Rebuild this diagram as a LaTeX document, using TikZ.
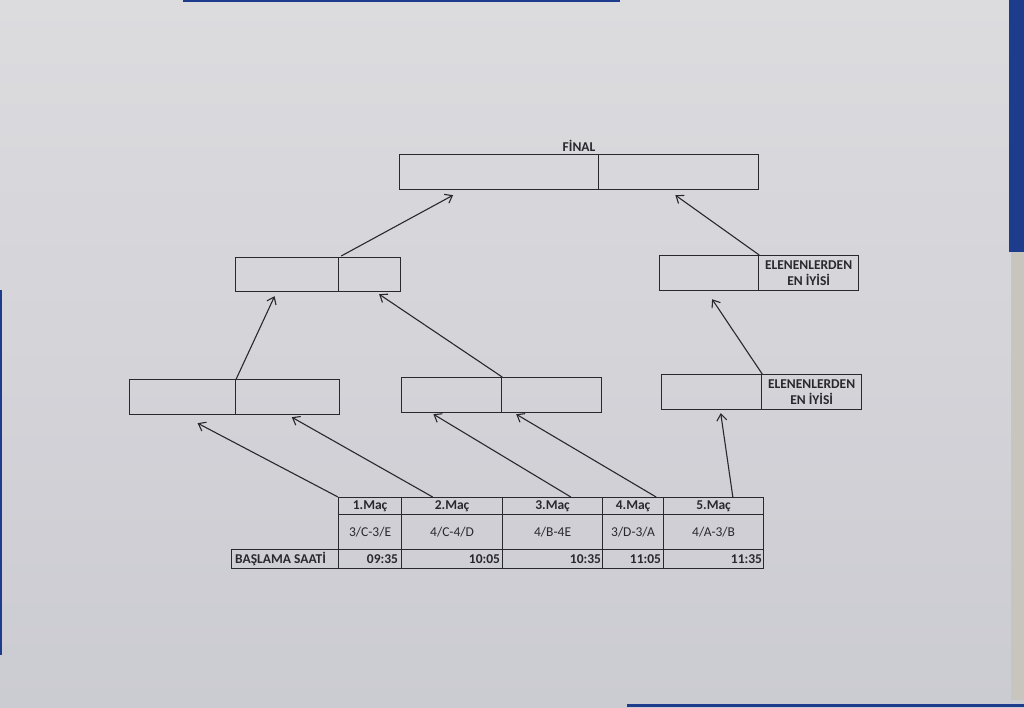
\documentclass[tikz,border=0pt]{standalone}
\usepackage{fontspec}
\setmainfont{Carlito}
\usetikzlibrary{arrows.meta,calc}
\definecolor{papertop}{RGB}{220,220,223}
\definecolor{paperbot}{RGB}{203,203,210}
\definecolor{ink}{RGB}{40,40,45}
\definecolor{bluebg}{RGB}{30,60,140}
\definecolor{beige}{RGB}{200,196,190}
\tikzset{
  cell/.style={draw=ink, line width=1.2pt, inner sep=0pt, anchor=north west},
  conn/.style={draw=ink, line width=1.1pt, -{Straight Barb[length=6.5pt,width=10pt,line width=1.1pt]}},
  lbl/.style={font=\fontsize{13.5}{15.5}\selectfont\bfseries, text=ink, align=center, inner sep=0pt},
  reg/.style={font=\fontsize{13.5}{15.5}\selectfont, text=ink, inner sep=0pt}
}
\newcommand{\cellat}[6]{% name, x1, y1, x2, y2, text
  \node[cell, minimum width=#4pt-#2pt, minimum height=#5pt-#3pt] (#1) at (#2,#3) {#6};}
\begin{document}
\begin{tikzpicture}[x=1pt,y=-1pt]
\useasboundingbox (0,0) rectangle (1024,707);
% background (photographed paper)
\shade[top color=papertop, bottom color=paperbot] (0,0) rectangle (1024,707);
\fill[bluebg] (1009,0) rectangle (1024,252);
\fill[beige] (1011,252) rectangle (1024,700);
\fill[bluebg] (183,0) rectangle (620,2);
\fill[bluebg] (627,704) rectangle (1024,707);
\fill[bluebg] (0,290) rectangle (2,655);

% FINAL
\cellat{f1}{399}{154}{598}{189}{}
\cellat{f2}{598}{154}{758}{189}{}
\node[lbl] (finallbl) at (579,146) {FİNAL};

% level 2
\cellat{a1}{235}{257}{338}{291}{}
\cellat{a2}{338}{257}{400}{291}{}
\cellat{b1}{659}{255}{758}{290}{}
\cellat{b2}{758}{255}{858}{290}{}
\node[lbl] (b2t) at (b2.center) {ELENENLERDEN\\EN İYİSİ};

% level 3
\cellat{c1}{129}{379}{235}{414}{}
\cellat{c2}{235}{379}{339}{414}{}
\cellat{d1}{401}{377}{501}{412}{}
\cellat{d2}{501}{377}{601}{412}{}
\cellat{e1}{661}{374}{761}{409}{}
\cellat{e2}{761}{374}{861}{409}{}
\node[lbl] (e2t) at (e2.center) {ELENENLERDEN\\EN İYİSİ};

% table: header row
\cellat{h1}{338}{497}{401}{514}{}
\cellat{h2}{401}{497}{502}{514}{}
\cellat{h3}{502}{497}{602}{514}{}
\cellat{h4}{602}{497}{663}{514}{}
\cellat{h5}{663}{497}{763}{514}{}
\node[lbl] at (h1.center) {1.Maç};
\node[lbl] at (h2.center) {2.Maç};
\node[lbl] at (h3.center) {3.Maç};
\node[lbl] at (h4.center) {4.Maç};
\node[lbl] at (h5.center) {5.Maç};
% teams row
\cellat{m1}{338}{514}{401}{549}{}
\cellat{m2}{401}{514}{502}{549}{}
\cellat{m3}{502}{514}{602}{549}{}
\cellat{m4}{602}{514}{663}{549}{}
\cellat{m5}{663}{514}{763}{549}{}
\node[reg] at (m1.center) {3/C-3/E};
\node[reg] at (m2.center) {4/C-4/D};
\node[reg] at (m3.center) {4/B-4E};
\node[reg] at (m4.center) {3/D-3/A};
\node[reg] at (m5.center) {4/A-3/B};
% time row
\cellat{s0}{231}{549}{338}{568}{}
\cellat{s1}{338}{549}{401}{568}{}
\cellat{s2}{401}{549}{502}{568}{}
\cellat{s3}{502}{549}{602}{568}{}
\cellat{s4}{602}{549}{663}{568}{}
\cellat{s5}{663}{549}{763}{568}{}
\node[lbl, anchor=west] at ($(s0.west)+(4,0)$) {BAŞLAMA SAATİ};
\node[lbl, anchor=east] at ($(s1.east)+(-4,0)$) {09:35};
\node[lbl, anchor=east] at ($(s2.east)+(-3,0)$) {10:05};
\node[lbl, anchor=east] at ($(s3.east)+(-2,0)$) {10:35};
\node[lbl, anchor=east] at ($(s4.east)+(-3,0)$) {11:05};
\node[lbl, anchor=east] at ($(s5.east)+(-2,0)$) {11:35};

% arrows from table to level 3
\draw[conn] (h1.north west) -- ($(c1.south west)!0.64!(c1.south east)+(0,8)$);
\draw[conn] ($(h2.north west)!0.31!(h2.north east)$) -- ($(c2.south west)!0.54!(c2.south east)+(0,2)$);
\draw[conn] ($(h3.north west)!0.68!(h3.north east)$) -- ($(d1.south west)!0.32!(d1.south east)+(0,1)$);
\draw[conn] ($(h4.north west)!0.87!(h4.north east)$) -- ($(d2.south west)!0.15!(d2.south east)+(0,1)$);
\draw[conn] ($(h5.north west)!0.69!(h5.north east)$) -- ($(e1.south west)!0.59!(e1.south east)+(0,3)$);

% level 3 to level 2
\draw[conn] (c1.north east) -- ($(a1.south west)!0.38!(a1.south east)+(0,4)$);
\draw[conn] (d1.north east) -- ($(a2.south west)!0.65!(a2.south east)+(0,2)$);
\draw[conn] (e1.north east) -- ($(b1.south west)!0.53!(b1.south east)+(0,8)$);

% level 2 to final
\draw[conn] ($(a1.north east)+(2,-1)$) -- ($(f1.south west)!0.27!(f1.south east)+(0,5)$);
\draw[conn] (b1.north east) -- ($(f2.south west)!0.48!(f2.south east)+(0,5)$);
\end{tikzpicture}
\end{document}
